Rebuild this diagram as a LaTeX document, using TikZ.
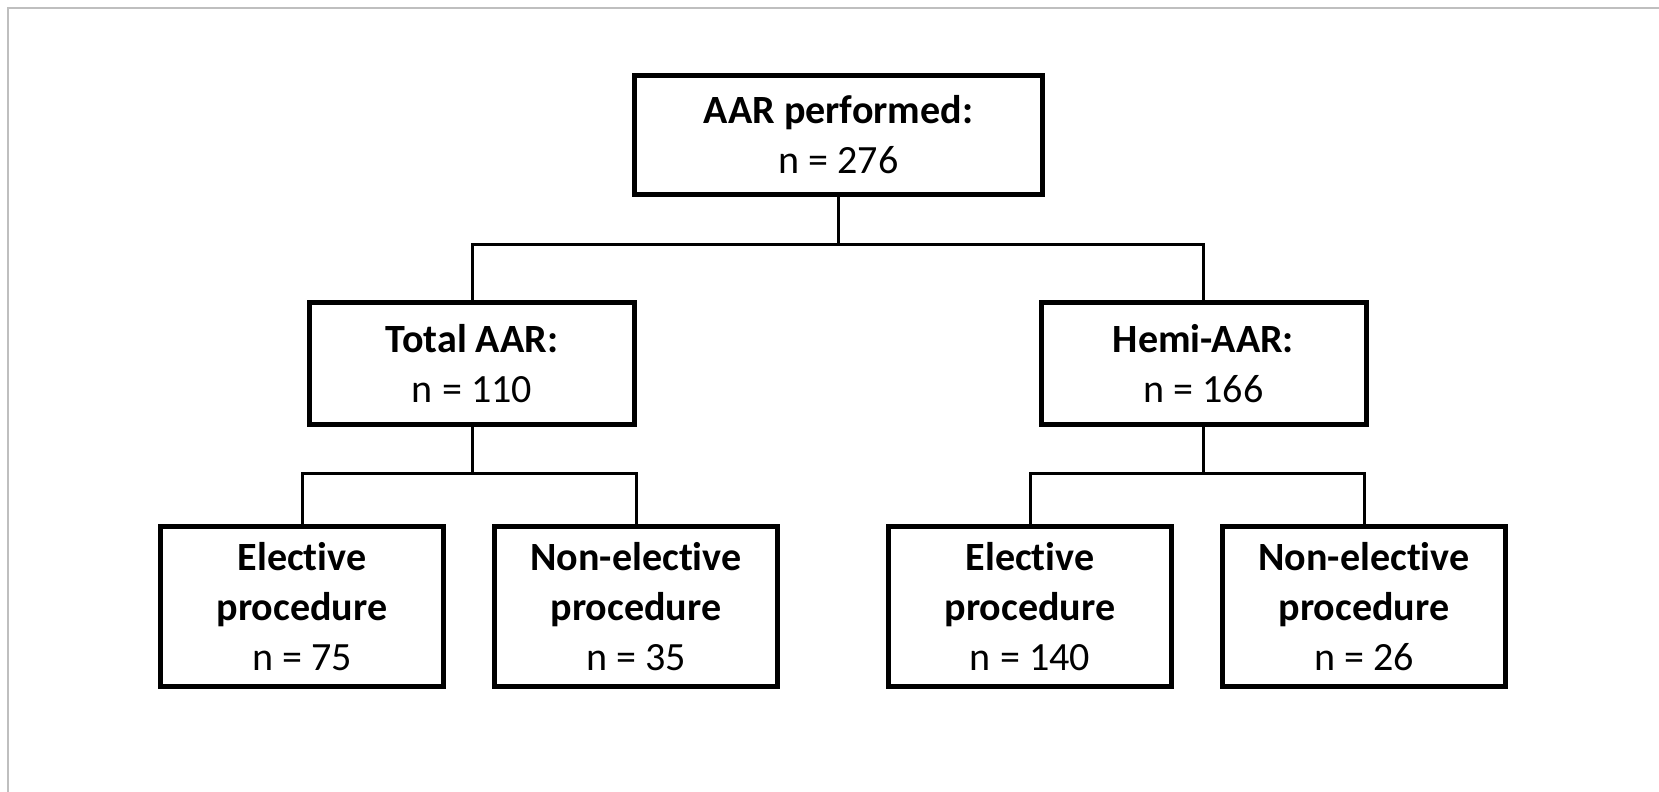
\documentclass[tikz,border=0pt]{standalone}
\usepackage{fontspec}
\setmainfont{Carlito}[Ligatures=NoCommon]
\usetikzlibrary{positioning}

\begin{document}
\begin{tikzpicture}[
    box/.style={draw, line width=0.05cm, align=center, inner sep=0pt,
      font=\fontsize{11.4}{14.2}\selectfont},
    topbox/.style={box, minimum width=4.08cm, minimum height=1.19cm},
    midbox/.style={box, minimum width=3.25cm, minimum height=1.22cm},
    leafbox/.style={box, minimum width=2.83cm, minimum height=1.60cm},
    link/.style={line width=0.03cm}
  ]
  \useasboundingbox (0,0) rectangle (16.59,-7.92);
  % page frame
  \draw[black!25, line width=0.02cm] (0.08,-7.92) -- (0.08,-0.08) -- (16.59,-0.08);

  % Top: all procedures
  \node[topbox] (all) at (8.385,-1.35) {\textbf{AAR performed:}\\n = 276};

  % Middle: total and hemi
  \node[midbox] (total) at (4.72,-3.635) {\textbf{Total AAR:}\\n = 110};
  \node[midbox] (hemi) at (12.035,-3.635) {\textbf{Hemi-AAR:}\\n = 166};

  % Bottom: elective and non-elective
  \node[leafbox] (totalel) at (3.02,-6.065) {\textbf{Elective}\\\textbf{procedure}\\n = 75};
  \node[leafbox] (totalne) at (6.36,-6.065) {\textbf{Non-elective}\\\textbf{procedure}\\n = 35};
  \node[leafbox] (hemiel) at (10.30,-6.065) {\textbf{Elective}\\\textbf{procedure}\\n = 140};
  \node[leafbox] (hemine) at (13.64,-6.065) {\textbf{Non-elective}\\\textbf{procedure}\\n = 26};

  % Connectors
  \draw[link] (all.south) -- ++(0,-0.48) -| (total.north);
  \draw[link] (all.south) -- ++(0,-0.48) -| (hemi.north);
  \draw[link] (total.south) -- ++(0,-0.47) -| (totalel.north);
  \draw[link] (total.south) -- ++(0,-0.47) -| (totalne.north);
  \draw[link] (hemi.south) -- ++(0,-0.47) -| (hemiel.north);
  \draw[link] (hemi.south) -- ++(0,-0.47) -| (hemine.north);
\end{tikzpicture}
\end{document}
